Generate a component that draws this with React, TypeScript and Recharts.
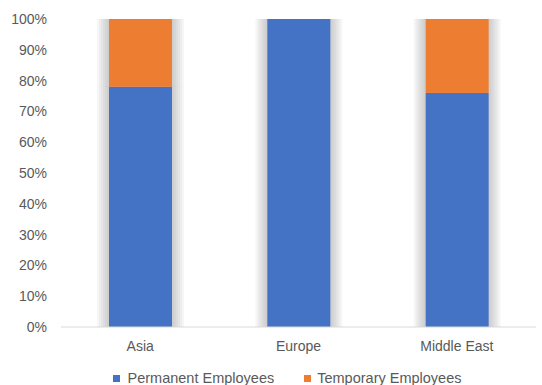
import { BarChart, Bar, XAxis, YAxis, Legend } from "recharts";

const regions = ["Asia", "Europe", "Middle East"];
const permanent = [0.78, 1.0, 0.76];
const temporary = [0.22, 0.0, 0.24];
const yTicks = [0, 0.1, 0.2, 0.3, 0.4, 0.5, 0.6, 0.7, 0.8, 0.9, 1.0];

const data = regions.map((name, i) => ({
  name,
  permanent: permanent[i],
  temporary: temporary[i],
}));

const font = "Liberation Sans, Arial, sans-serif";
const haloSteps = [12, 10, 8, 6, 4, 2];

// bar segment with a soft gray halo drawn as stacked translucent rects
const ShadowBar = (props: any) => {
  const { x, y, width, height, fill } = props;
  if (!height || height <= 0) return null;
  return (
    <g>
      {haloSteps.map((s) => (
        <rect
          key={s}
          x={x - s}
          y={y}
          width={width + 2 * s}
          height={height}
          fill="#7a7a7a"
          fillOpacity={0.065}
        />
      ))}
      <rect x={x} y={y} width={width} height={height} fill={fill} />
    </g>
  );
};

const LegendContent = ({ payload }: any) => (
  <div
    style={{
      display: "flex",
      justifyContent: "center",
      gap: 30,
      paddingLeft: 38,
      fontFamily: font,
      fontSize: 14.5,
      color: "#595959",
    }}
  >
    {(payload || []).map((p: any, i: number) => (
      <div key={p.value} style={{ display: "flex", alignItems: "center" }}>
        <span
          style={{
            width: 7,
            height: 7,
            background: p.color,
            marginRight: i === 0 ? 8 : 6,
            display: "inline-block",
          }}
        />
        <span>{p.value}</span>
      </div>
    ))}
  </div>
);

export default function App() {
  return (
    <div style={{ position: "absolute", left: 0, top: 0, background: "#fff" }}>
      <BarChart
        width={542}
        height={385}
        data={data}
        margin={{ top: 19, right: 6, left: 0, bottom: 2 }}
        barSize={63}
      >
        <XAxis
          dataKey="name"
          tickLine={false}
          axisLine={{ stroke: "#d9d9d9" }}
          tick={{ fill: "#595959", fontSize: 14, fontFamily: font }}
          tickMargin={8}
          height={32}
        />
        <YAxis
          domain={[0, 1]}
          ticks={yTicks}
          tickFormatter={(v) => `${Math.round(v * 100)}%`}
          axisLine={false}
          tickLine={false}
          tick={{ fill: "#595959", fontSize: 14, fontFamily: font }}
          tickMargin={8}
          width={61}
          interval={0}
        />
        <Legend verticalAlign="bottom" height={24} wrapperStyle={{ bottom: -9 }} content={LegendContent} />
        <Bar
          dataKey="permanent"
          name="Permanent Employees"
          stackId="a"
          fill="#4472C4"
          shape={ShadowBar}
          isAnimationActive={false}
        />
        <Bar
          dataKey="temporary"
          name="Temporary Employees"
          stackId="a"
          fill="#ED7D31"
          shape={ShadowBar}
          isAnimationActive={false}
        />
      </BarChart>
    </div>
  );
}
